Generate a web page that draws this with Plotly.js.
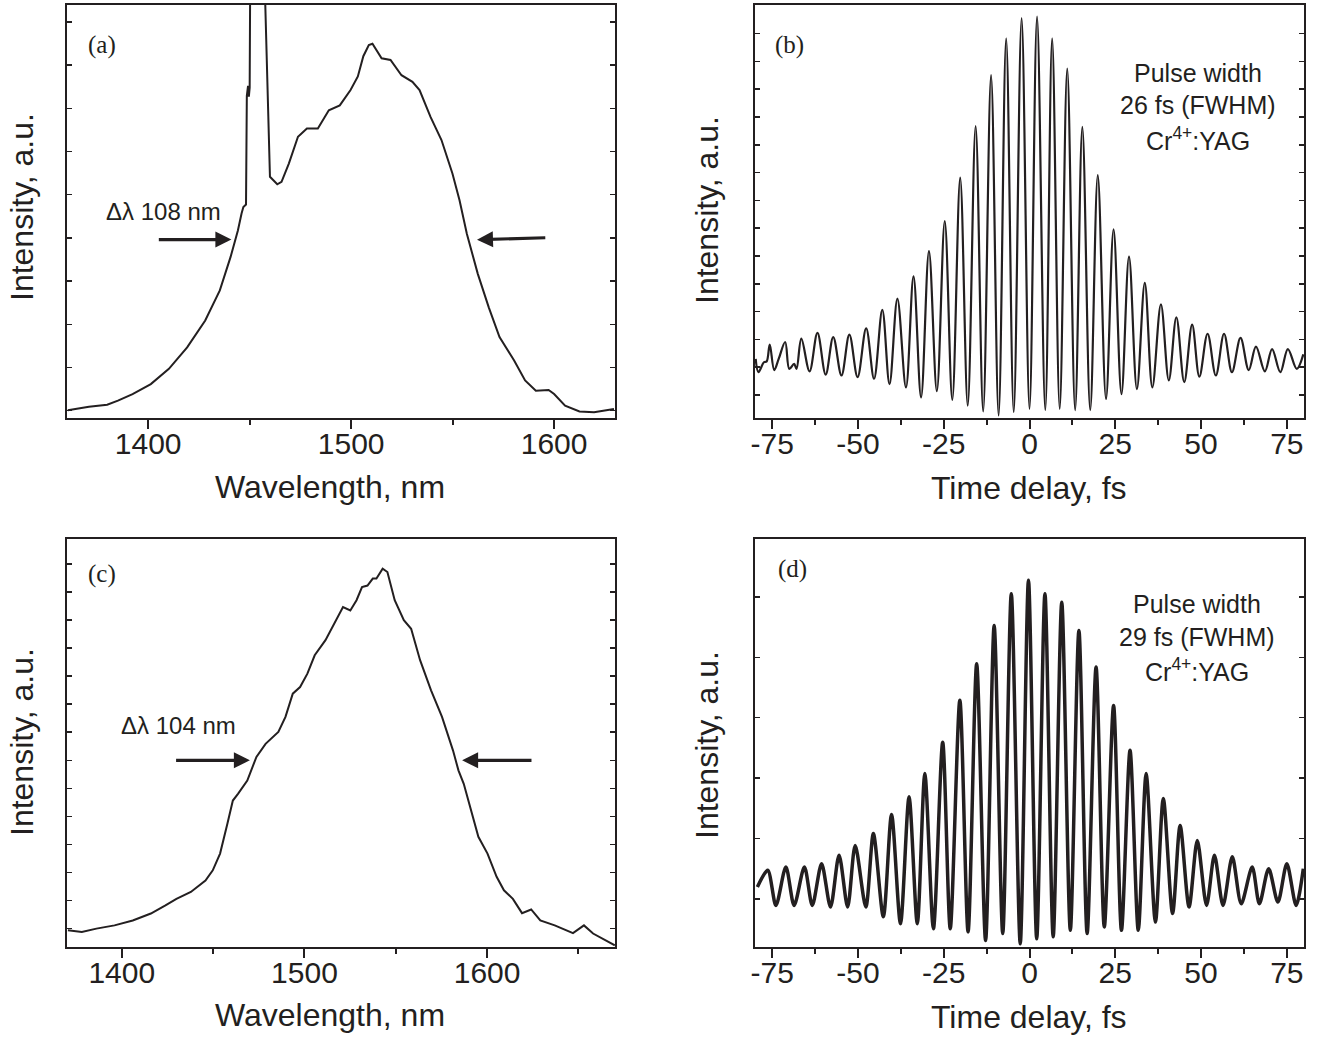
<!DOCTYPE html>
<html>
<head>
<meta charset="utf-8">
<script src="https://cdn.plot.ly/plotly-3.0.1.min.js"></script>
<style>html,body{margin:0;padding:0;background:#fff;}#chart{width:1319px;height:1038px;}</style>
</head>
<body>
<div id="chart"></div>
<script>
// ---------- Data ----------
// Panel (a): spectrum, wavelength (nm) vs intensity (a.u., 0 = frame bottom, 1 = frame top)
const wlA = [1360.4,1370.8,1379.8,1385.1,1392.3,1401.3,1410.2,1419.2,1428.1,1435.3,1440.6,1444.2,1446.0,1446.9,1448.2,1448.6,1449.2,1449.6,1450.0,1450.6,1457.2,1457.7,1460.0,1463.6,1465.7,1469.3,1473.8,1478.2,1483.6,1489.0,1494.4,1499.7,1503.3,1506.0,1508.7,1510.5,1515.0,1519.4,1524.8,1530.2,1533.7,1539.1,1544.5,1549.9,1553.4,1557.0,1562.4,1567.8,1573.1,1580.3,1585.7,1591.0,1597.3,1600.0,1605.4,1612.5,1619.7,1625.1,1629.5];
const intA = [0.019,0.027,0.032,0.042,0.058,0.082,0.119,0.171,0.236,0.309,0.390,0.454,0.495,0.511,0.517,0.780,0.804,0.778,0.800,1.400,1.400,1.000,0.584,0.566,0.572,0.616,0.681,0.701,0.701,0.745,0.757,0.794,0.827,0.876,0.903,0.906,0.871,0.867,0.830,0.814,0.794,0.729,0.673,0.592,0.527,0.446,0.349,0.268,0.196,0.139,0.091,0.066,0.068,0.058,0.030,0.016,0.014,0.019,0.022];

// Panel (b): autocorrelation, delay (fs) vs intensity (a.u.) - fringe extrema
const tB = [-79.8,-79.0,-77.4,-76.6,-75.7,-74.4,-73.1,-71.2,-70.0,-68.6,-67.9,-66.5,-64.1,-61.8,-59.4,-57.2,-54.8,-52.5,-50.1,-47.6,-45.3,-42.9,-40.8,-38.5,-36.0,-33.8,-31.6,-29.3,-27.0,-24.7,-22.5,-20.2,-18.0,-15.7,-13.5,-11.2,-9.0,-6.8,-4.6,-2.3,0.0,2.2,4.6,6.6,8.8,11.0,13.3,15.4,17.7,19.9,22.3,24.5,26.8,29.0,31.3,33.6,35.8,38.3,40.6,42.8,45.1,47.4,49.5,51.9,54.3,56.7,59.0,61.5,63.9,66.0,68.6,70.7,73.1,75.3,77.9,79.8];
const intB = [0.143,0.111,0.135,0.137,0.178,0.116,0.143,0.184,0.119,0.131,0.119,0.192,0.113,0.206,0.105,0.196,0.103,0.202,0.099,0.217,0.095,0.262,0.082,0.289,0.074,0.343,0.050,0.404,0.065,0.477,0.044,0.582,0.030,0.707,0.016,0.830,0.006,0.919,0.014,0.968,0.022,0.972,0.019,0.919,0.022,0.846,0.019,0.705,0.019,0.588,0.046,0.457,0.058,0.391,0.070,0.327,0.074,0.275,0.091,0.244,0.087,0.226,0.100,0.204,0.103,0.204,0.111,0.194,0.116,0.173,0.113,0.167,0.111,0.167,0.119,0.154];

// Panel (c): spectrum
const wlC = [1370.5,1378.1,1386.1,1396.0,1406.0,1415.9,1423.9,1429.9,1437.8,1445.8,1449.8,1453.8,1457.8,1460.8,1463.7,1468.7,1473.7,1478.7,1485.7,1489.6,1493.6,1497.6,1501.6,1505.6,1511.5,1517.5,1521.1,1525.1,1528.5,1531.5,1534.5,1537.4,1539.4,1542.8,1545.4,1549.4,1554.4,1558.4,1563.3,1569.3,1575.3,1581.3,1584.3,1587.2,1591.2,1595.2,1600.2,1605.2,1609.2,1614.1,1619.1,1624.1,1629.1,1637.0,1647.0,1653.0,1658.0,1665.0,1669.9];
const intC = [0.041,0.037,0.045,0.053,0.065,0.082,0.102,0.118,0.135,0.163,0.188,0.229,0.302,0.359,0.376,0.408,0.466,0.498,0.527,0.564,0.621,0.637,0.670,0.715,0.752,0.801,0.833,0.825,0.850,0.882,0.886,0.903,0.903,0.927,0.919,0.850,0.801,0.780,0.703,0.629,0.564,0.482,0.433,0.400,0.335,0.270,0.229,0.172,0.139,0.118,0.083,0.092,0.065,0.053,0.034,0.053,0.033,0.016,0.004];

// Panel (d): autocorrelation - fringe extrema
const tD = [-79.3,-76.3,-73.9,-71.0,-68.6,-65.6,-63.3,-60.6,-58.0,-55.5,-53.0,-50.8,-47.7,-45.5,-42.6,-40.2,-37.6,-35.1,-32.7,-30.5,-28.0,-25.3,-23.1,-20.3,-17.9,-15.4,-12.8,-10.3,-7.8,-5.3,-2.7,-0.3,2.1,4.5,6.9,9.4,11.9,14.4,16.8,19.4,21.8,24.5,26.8,29.3,31.7,34.0,36.7,39.0,41.7,43.9,46.5,48.9,51.6,53.9,56.4,59.1,61.7,64.9,67.0,69.7,72.4,75.0,77.7,79.8];
const intD = [0.147,0.188,0.102,0.196,0.102,0.196,0.102,0.204,0.098,0.225,0.098,0.249,0.098,0.278,0.074,0.325,0.057,0.368,0.057,0.425,0.045,0.502,0.045,0.605,0.037,0.694,0.016,0.788,0.033,0.866,0.008,0.899,0.020,0.866,0.025,0.845,0.041,0.776,0.033,0.686,0.049,0.592,0.041,0.482,0.041,0.425,0.061,0.364,0.082,0.298,0.098,0.261,0.102,0.225,0.102,0.221,0.106,0.196,0.106,0.192,0.110,0.204,0.102,0.192];

// Tick labels
const wlTicks = [1400, 1500, 1600];
const wlTickText = ['1400', '1500', '1600'];
const tTicks = [-75, -50, -25, 0, 25, 50, 75];
const tTickText = ['-75', '-50', '-25', '0', '25', '50', '75'];

// Text
const panelLabels = ['(a)', '(b)', '(c)', '(d)'];
const xTitles = ['Wavelength, nm', 'Time delay, fs', 'Wavelength, nm', 'Time delay, fs'];
const yTitle = 'Intensity, a.u.';
const pulseTextB = ['Pulse width', '26 fs (FWHM)', 'Cr<sup>4+</sup>:YAG'];
const pulseTextD = ['Pulse width', '29 fs (FWHM)', 'Cr<sup>4+</sup>:YAG'];
const bwTextA = 'Δλ 108 nm';
const bwTextC = 'Δλ 104 nm';

// ---------- Layout ----------
const W = 1319, H = 1038;
const INK = '#231f20';
const FONT = 'Liberation Sans, Arial, sans-serif';
const SERIF = 'Liberation Serif, Times New Roman, serif';

const colL = [67 / W, 615 / W];
const colR = [755 / W, 1304 / W];
const rowT = [1 - 418 / H, 1 - 5 / H];
const rowB = [1 - 947 / H, 1 - 539 / H];

function xAxis(domain, range, anchor, vals, text, minorDtick) {
  return {
    domain: domain, range: range, anchor: anchor,
    showline: true, linewidth: 2, linecolor: INK, mirror: true,
    ticks: 'outside', ticklen: 9, tickwidth: 2, tickcolor: INK,
    tickmode: 'array', tickvals: vals, ticktext: text,
    minor: {ticks: 'outside', ticklen: 5, tickwidth: 2, tickcolor: INK, dtick: minorDtick, tick0: 0, showgrid: false},
    tickfont: {family: FONT, size: 30, color: INK},
    ticklabelstandoff: -11,
    showgrid: false, zeroline: false, fixedrange: true
  };
}
function yAxis(domain, anchor, tick0, dtick) {
  return {
    domain: domain, range: [0, 1], anchor: anchor,
    showline: true, linewidth: 2, linecolor: INK, mirror: 'ticks',
    ticks: 'inside', ticklen: 5, tickwidth: 1.5, tickcolor: INK,
    tick0: tick0, dtick: dtick, showticklabels: false,
    showgrid: false, zeroline: false, fixedrange: true
  };
}

const traces = [
  {x: wlA, y: intA, xaxis: 'x', yaxis: 'y', type: 'scatter', mode: 'lines', line: {color: INK, width: 2}},
  {x: tB, y: intB, xaxis: 'x2', yaxis: 'y2', type: 'scatter', mode: 'lines', line: {color: INK, width: 2.2, shape: 'spline', smoothing: 1}},
  {x: wlC, y: intC, xaxis: 'x3', yaxis: 'y3', type: 'scatter', mode: 'lines', line: {color: INK, width: 2}},
  {x: tD, y: intD, xaxis: 'x4', yaxis: 'y4', type: 'scatter', mode: 'lines', line: {color: INK, width: 3.5, shape: 'spline', smoothing: 0.8}}
];

const ann = [];
function txt(xref, yref, x, y, text, opts) {
  ann.push(Object.assign({xref: xref, yref: yref, x: x, y: y, text: text, showarrow: false,
    xanchor: 'center', yanchor: 'middle',
    font: {family: FONT, size: 24, color: INK}}, opts || {}));
}
function arrow(xref, yref, xTail, yTail, xHead, yHead) {
  ann.push({xref: xref, yref: yref, axref: xref, ayref: yref, x: xHead, y: yHead, ax: xTail, ay: yTail,
    text: '', showarrow: true, arrowhead: 2, arrowsize: 1, arrowwidth: 3.2, arrowcolor: INK, standoff: 0, startstandoff: 0});
}

const titleFont = {family: FONT, size: 32, color: INK};
// axis titles
txt('paper', 'paper', 329.5 / W, 1 - 487 / H, xTitles[0], {font: titleFont});
txt('paper', 'paper', 1029 / W, 1 - 488 / H, xTitles[1], {font: titleFont});
txt('paper', 'paper', 329.5 / W, 1 - 1015 / H, xTitles[2], {font: titleFont});
txt('paper', 'paper', 1029 / W, 1 - 1017 / H, xTitles[3], {font: titleFont});
txt('paper', 'paper', 22 / W, 1 - 207 / H, yTitle, {textangle: -90, font: titleFont});
txt('paper', 'paper', 707 / W, 1 - 210 / H, yTitle, {textangle: -90, font: titleFont});
txt('paper', 'paper', 22 / W, 1 - 742 / H, yTitle, {textangle: -90, font: titleFont});
txt('paper', 'paper', 707 / W, 1 - 745 / H, yTitle, {textangle: -90, font: titleFont});

// panel labels
const labFont = {family: SERIF, size: 25, color: INK};
txt('x', 'y', 1369.5, 0.903, panelLabels[0], {xanchor: 'left', font: labFont});
txt('x2', 'y2', -74.8, 0.903, panelLabels[1], {xanchor: 'left', font: labFont});
txt('x3', 'y3', 1380.5, 0.915, panelLabels[2], {xanchor: 'left', font: labFont});
txt('x4', 'y4', -74.0, 0.927, panelLabels[3], {xanchor: 'left', font: labFont});

// pulse text
const pulseFont = {family: FONT, size: 25, color: INK};
const yB = [0.835, 0.757, 0.675];
const yD = [0.840, 0.760, 0.680];
for (let i = 0; i < 3; i++) {
  txt('x2', 'y2', 49.1, yB[i], pulseTextB[i], {font: pulseFont});
  txt('x4', 'y4', 48.9, yD[i], pulseTextD[i], {font: pulseFont});
}

// bandwidth text and arrows
txt('x', 'y', 1378.0, 0.499, bwTextA, {xanchor: 'left'});
arrow('x', 'y', 1404.5, 0.432, 1441.0, 0.432);
arrow('x', 'y', 1596.4, 0.4365, 1562.0, 0.4317);
txt('x3', 'y3', 1398.6, 0.543, bwTextC, {xanchor: 'left'});
arrow('x3', 'y3', 1428.9, 0.4575, 1470.1, 0.4575);
arrow('x3', 'y3', 1625.1, 0.4575, 1586.3, 0.4575);

const layout = {
  width: W, height: H,
  margin: {l: 0, r: 0, t: 0, b: 0, autoexpand: false},
  paper_bgcolor: '#ffffff', plot_bgcolor: '#ffffff',
  showlegend: false,
  font: {family: FONT, color: INK},
  xaxis: xAxis(colL, [1360, 1630], 'y', wlTicks, wlTickText, 50),
  yaxis: yAxis(rowT, 'x', 0.0178, 0.1046),
  xaxis2: xAxis(colR, [-80, 80], 'y2', tTicks, tTickText, 12.5),
  yaxis2: yAxis(rowT, 'x2', 0.0558, 0.0673),
  xaxis3: xAxis(colL, [1370, 1670], 'y3', wlTicks, wlTickText, 50),
  yaxis3: yAxis(rowB, 'x3', 0.0449, 0.0688),
  xaxis4: xAxis(colR, [-80, 80], 'y4', tTicks, tTickText, 12.5),
  yaxis4: yAxis(rowB, 'x4', 0.118, 0.148),
  annotations: ann
};

Plotly.newPlot('chart', traces, layout, {staticPlot: true, displayModeBar: false});
</script>
</body>
</html>
